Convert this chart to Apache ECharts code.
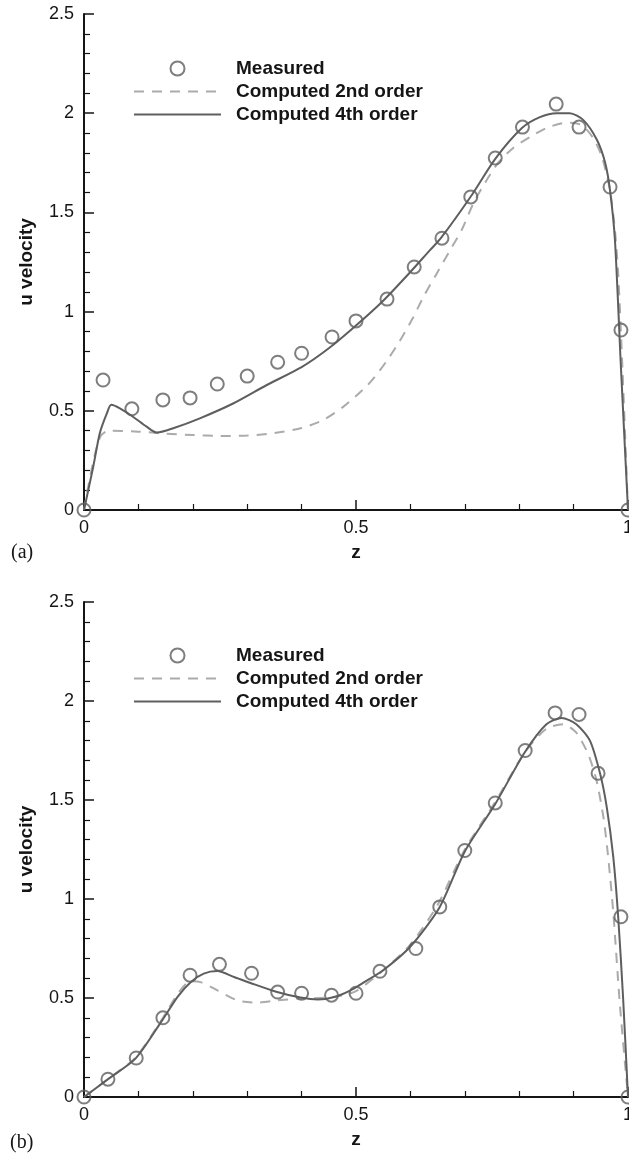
<!DOCTYPE html>
<html>
<head>
<meta charset="utf-8">
<script src="https://cdn.jsdelivr.net/npm/echarts@6/dist/echarts.min.js"></script>
<style>
  html, body { margin: 0; padding: 0; background: #fff; overflow: hidden; }
  #chart { width: 629px; height: 1155px; }
</style>
</head>
<body>
<div id="chart"></div>
<script>
// Axis ticks
const zTicks = [0, 0.5, 1];
const uTicks = [0, 0.5, 1, 1.5, 2, 2.5];

// Panel (a): measured profile
const measuredZ_a = [0, 0.035, 0.088, 0.145, 0.195, 0.245, 0.30, 0.356, 0.40, 0.456, 0.50, 0.557, 0.607, 0.658, 0.711, 0.756, 0.806, 0.868, 0.91, 0.967, 0.987, 1.0];
const measuredU_a = [0, 0.655, 0.51, 0.555, 0.565, 0.635, 0.675, 0.745, 0.79, 0.872, 0.953, 1.063, 1.225, 1.37, 1.578, 1.774, 1.93, 2.046, 1.93, 1.628, 0.907, 0];

// Panel (a): 2nd order computation
const secondZ_a = [0, 0.01, 0.02, 0.03, 0.04, 0.05, 0.1, 0.15, 0.2, 0.25, 0.3, 0.35, 0.4, 0.44, 0.477, 0.5, 0.52, 0.54, 0.56, 0.58, 0.605, 0.624, 0.648, 0.673, 0.694, 0.716, 0.737, 0.761, 0.789, 0.82, 0.85, 0.887, 0.915, 0.936, 0.952, 0.967, 0.976, 0.982, 0.99, 1.0];
const secondU_a = [0, 0.15, 0.28, 0.37, 0.395, 0.40, 0.395, 0.385, 0.378, 0.373, 0.375, 0.388, 0.413, 0.454, 0.521, 0.575, 0.625, 0.69, 0.765, 0.85, 0.97, 1.075, 1.19, 1.31, 1.41, 1.547, 1.648, 1.749, 1.825, 1.88, 1.925, 1.952, 1.94, 1.875, 1.78, 1.61, 1.41, 1.19, 0.7, 0];

// Panel (a): 4th order computation
const fourthZ_a = [0, 0.017, 0.029, 0.042, 0.05, 0.066, 0.09, 0.115, 0.134, 0.164, 0.213, 0.275, 0.336, 0.40, 0.45, 0.5, 0.55, 0.6, 0.636, 0.656, 0.711, 0.756, 0.805, 0.838, 0.869, 0.893, 0.918, 0.943, 0.958, 0.967, 0.976, 0.987, 1.0];
const fourthU_a = [0, 0.218, 0.387, 0.487, 0.53, 0.512, 0.47, 0.42, 0.39, 0.412, 0.462, 0.538, 0.63, 0.72, 0.815, 0.93, 1.055, 1.2, 1.31, 1.37, 1.58, 1.77, 1.925, 1.98, 2.0, 2.0, 1.965, 1.865, 1.75, 1.61, 1.36, 0.72, 0];

// Panel (b): measured profile
const measuredZ_b = [0, 0.044, 0.096, 0.145, 0.195, 0.249, 0.308, 0.356, 0.40, 0.455, 0.50, 0.544, 0.61, 0.654, 0.70, 0.756, 0.811, 0.866, 0.91, 0.945, 0.987, 1.0];
const measuredU_b = [0, 0.09, 0.197, 0.40, 0.615, 0.67, 0.625, 0.53, 0.524, 0.514, 0.524, 0.635, 0.75, 0.96, 1.245, 1.485, 1.75, 1.94, 1.932, 1.635, 0.91, 0];

// Panel (b): 2nd order computation
const secondZ_b = [0, 0.046, 0.095, 0.144, 0.172, 0.196, 0.214, 0.245, 0.282, 0.319, 0.355, 0.398, 0.46, 0.5, 0.55, 0.6, 0.65, 0.70, 0.756, 0.81, 0.85, 0.881, 0.905, 0.927, 0.942, 0.955, 0.964, 0.973, 0.985, 1.0];
const secondU_b = [0, 0.094, 0.2, 0.395, 0.52, 0.585, 0.58, 0.539, 0.488, 0.477, 0.488, 0.497, 0.505, 0.535, 0.64, 0.77, 0.97, 1.25, 1.49, 1.74, 1.86, 1.883, 1.84, 1.73, 1.6, 1.41, 1.2, 0.93, 0.47, 0];

// Panel (b): 4th order computation
const fourthZ_b = [0, 0.046, 0.095, 0.144, 0.172, 0.196, 0.22, 0.245, 0.276, 0.306, 0.355, 0.398, 0.43, 0.46, 0.49, 0.515, 0.55, 0.6, 0.654, 0.70, 0.756, 0.81, 0.85, 0.878, 0.905, 0.93, 0.949, 0.961, 0.973, 0.982, 0.991, 1.0];
const fourthU_b = [0, 0.094, 0.195, 0.388, 0.506, 0.58, 0.623, 0.636, 0.606, 0.576, 0.53, 0.502, 0.492, 0.505, 0.539, 0.58, 0.64, 0.76, 0.96, 1.24, 1.48, 1.74, 1.883, 1.914, 1.883, 1.8, 1.63, 1.463, 1.21, 0.908, 0.5, 0];

const names = ['Measured', 'Computed 2nd order', 'Computed 4th order'];

const pairs = (zs, us) => zs.map((z, i) => [z, us[i]]);

const INK = '#151515';
const SANS = '"Liberation Sans", Arial, Helvetica, sans-serif';
const SERIF = '"Liberation Serif", "Times New Roman", serif';

function xAxisFor(gridIndex) {
  return {
    type: 'value', gridIndex,
    min: zTicks[0], max: zTicks[zTicks.length - 1], interval: zTicks[1] - zTicks[0],
    name: 'z', nameLocation: 'middle', nameGap: 33,
    nameTextStyle: { fontFamily: SANS, fontWeight: 'bold', fontSize: 19, color: INK },
    axisLine: { show: true, onZero: false, lineStyle: { color: INK, width: 2 } },
    axisTick: { show: true, inside: true, length: 10, lineStyle: { color: INK, width: 1.5 } },
    minorTick: { show: true, splitNumber: 5, length: 6, lineStyle: { color: INK, width: 1.2 } },
    axisLabel: { fontFamily: SANS, fontSize: 18, color: INK, margin: 9 },
    splitLine: { show: false }, minorSplitLine: { show: false }
  };
}

function yAxisFor(gridIndex) {
  return {
    type: 'value', gridIndex,
    min: uTicks[0], max: uTicks[uTicks.length - 1], interval: uTicks[1] - uTicks[0],
    name: 'u velocity', nameLocation: 'middle', nameGap: 48,
    nameTextStyle: { fontFamily: SANS, fontWeight: 'bold', fontSize: 19, color: INK },
    axisLine: { show: true, onZero: false, lineStyle: { color: INK, width: 2 } },
    axisTick: { show: true, inside: true, length: 10, lineStyle: { color: INK, width: 1.5 } },
    minorTick: { show: true, splitNumber: 5, length: 6, lineStyle: { color: INK, width: 1.2 } },
    axisLabel: { fontFamily: SANS, fontSize: 18, color: INK, margin: 10 },
    splitLine: { show: false }, minorSplitLine: { show: false }
  };
}

function seriesFor(idx, mz, mu, sz, su, fz, fu) {
  return [
    {
      name: names[1], type: 'line', xAxisIndex: idx, yAxisIndex: idx,
      data: pairs(sz, su), symbol: 'none', smooth: 0.25,
      lineStyle: { color: '#ababab', width: 2, type: [10, 8] },
      itemStyle: { color: '#ababab' }, z: 2
    },
    {
      name: names[2], type: 'line', xAxisIndex: idx, yAxisIndex: idx,
      data: pairs(fz, fu), symbol: 'none', smooth: 0.25,
      lineStyle: { color: '#5e5e5e', width: 2 },
      itemStyle: { color: '#5e5e5e' }, z: 3
    },
    {
      name: names[0], type: 'scatter', xAxisIndex: idx, yAxisIndex: idx,
      data: pairs(mz, mu), symbol: 'circle', symbolSize: 13, clip: false,
      itemStyle: { color: 'rgba(255,255,255,0)', borderColor: '#5e5e5e', borderWidth: 2 },
      z: 4
    }
  ];
}

function legendFor(top) {
  return {
    data: [
      { name: names[0] },
      { name: names[1], itemStyle: { opacity: 0 } },
      { name: names[2], itemStyle: { opacity: 0 } }
    ],
    orient: 'vertical', left: 133, top: top, padding: 0,
    itemWidth: 87, itemHeight: 14, itemGap: 4,
    selectedMode: false,
    textStyle: { fontFamily: SANS, fontWeight: 'bold', fontSize: 19, color: INK, padding: [0, 0, 0, 10] }
  };
}

const chart = echarts.init(document.getElementById('chart'), null, { renderer: 'canvas' });
chart.setOption({
  animation: false,
  backgroundColor: '#fff',
  grid: [
    { left: 84, top: 14, width: 544, height: 496, containLabel: false, outerBoundsMode: 'none' },
    { left: 84, top: 602, width: 544, height: 495, containLabel: false, outerBoundsMode: 'none' }
  ],
  xAxis: [xAxisFor(0), xAxisFor(1)],
  yAxis: [yAxisFor(0), yAxisFor(1)],
  legend: [legendFor(59), legendFor(646)],
  graphic: [
    { type: 'text', left: 11, top: 543, style: { text: '(a)', font: '20px ' + SERIF, fill: INK } },
    { type: 'text', left: 10, top: 1133, style: { text: '(b)', font: '20px ' + SERIF, fill: INK } }
  ],
  series: [
    ...seriesFor(0, measuredZ_a, measuredU_a, secondZ_a, secondU_a, fourthZ_a, fourthU_a),
    ...seriesFor(1, measuredZ_b, measuredU_b, secondZ_b, secondU_b, fourthZ_b, fourthU_b)
  ]
});
</script>
</body>
</html>
